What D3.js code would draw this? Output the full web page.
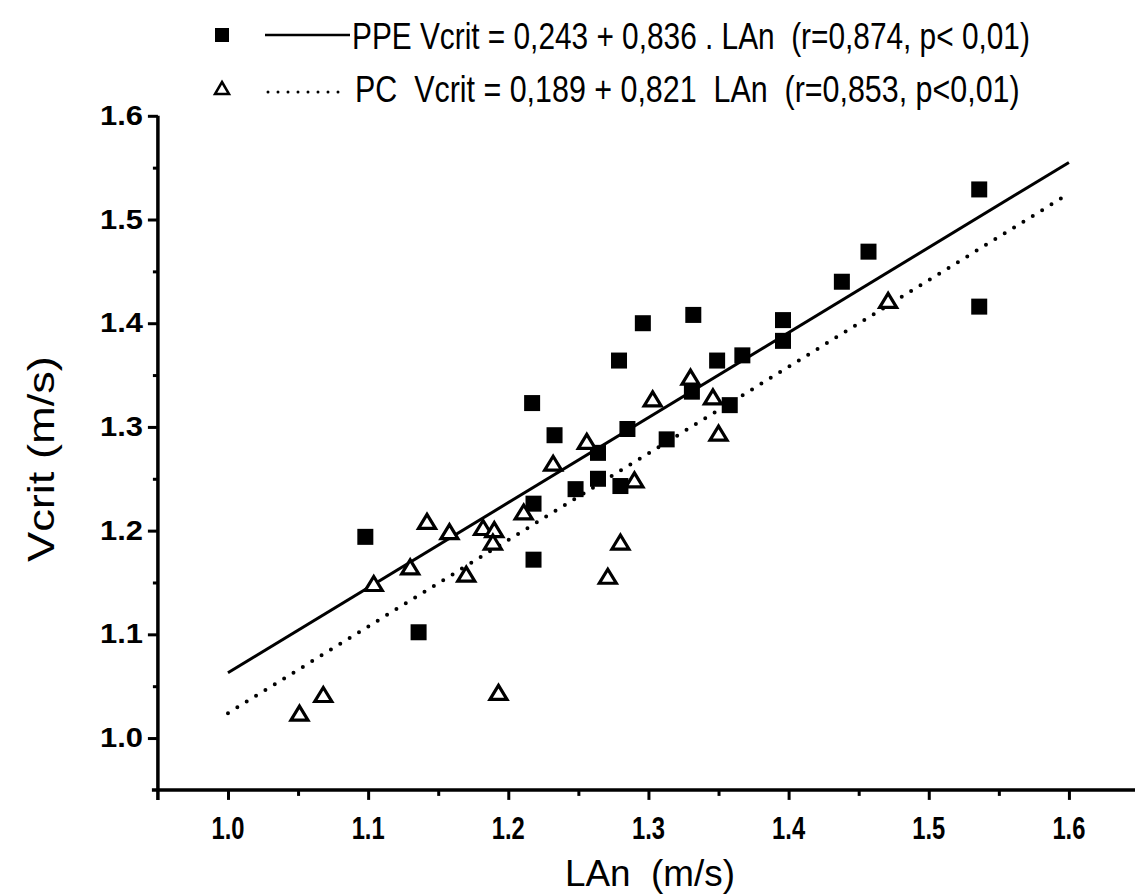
<!DOCTYPE html>
<html><head><meta charset="utf-8">
<script src="https://cdn.jsdelivr.net/npm/d3@7"></script>
<style>body{margin:0;background:#fff}svg{display:block}text{white-space:pre}</style>
</head><body>
<script>
// ---- data ----
const ppeX = [1.098,1.136,1.217,1.218,1.218,1.233,1.248,1.264,1.264,1.280,1.279,1.285,1.296,1.313,1.331,1.332,1.349,1.358,1.367,1.396,1.396,1.438,1.457,1.536,1.536];
const ppeY = [1.194,1.102,1.323,1.226,1.172,1.292,1.240,1.275,1.250,1.243,1.364,1.298,1.400,1.288,1.334,1.408,1.364,1.321,1.369,1.403,1.383,1.440,1.469,1.529,1.416];
const pcX  = [1.051,1.068,1.104,1.130,1.142,1.158,1.170,1.182,1.190,1.189,1.193,1.211,1.232,1.256,1.271,1.280,1.290,1.303,1.330,1.346,1.350,1.471];
const pcY  = [1.024,1.042,1.149,1.165,1.209,1.199,1.158,1.203,1.201,1.189,1.044,1.218,1.265,1.286,1.156,1.189,1.249,1.327,1.348,1.329,1.294,1.422];
const ppeFitX = [1.0, 1.6], ppeFitY = [1.063, 1.555];
const pcFitX  = [1.0, 1.6], pcFitY  = [1.024, 1.525];
const xTicks = [1.0,1.1,1.2,1.3,1.4,1.5,1.6];
const yTicks = [1.0,1.1,1.2,1.3,1.4,1.5,1.6];
const xMinor = [1.05,1.15,1.25,1.35,1.45,1.55];
const yMinor = [1.05,1.15,1.25,1.35,1.45,1.55];
const legendLabels = ["PPE Vcrit = 0,243 + 0,836 . LAn  (r=0,874, p< 0,01)", "PC  Vcrit = 0,189 + 0,821  LAn  (r=0,853, p<0,01)"];
const xTitle = "LAn  (m/s)", yTitle = "Vcrit (m/s)";

const W = 1135, H = 895;
const svg = d3.select("body").append("svg").attr("width", W).attr("height", H);
const x = d3.scaleLinear().domain([0.95, 1.65]).range([157.9, 1139]);
const y = d3.scaleLinear().domain([0.95, 1.6]).range([789.9, 115.8]);
const sans = "'Liberation Sans',Arial,sans-serif";

// helper: text squeezed horizontally to a target width via transform
function fitText(parent, str, tx, ty, size, width, opts = {}) {
  const g = parent.append("g");
  const t = g.append("text").attr("font-family", sans).attr("font-size", size)
    .attr("font-weight", opts.bold ? "bold" : "normal").attr("fill", "#000").text(str);
  const nat = t.node().getComputedTextLength();
  const sx = width / nat;
  const anchor = opts.anchor || "start";
  const ox = anchor === "middle" ? -width / 2 : anchor === "end" ? -width : 0;
  const rot = opts.rotate ? ` rotate(${opts.rotate})` : "";
  g.attr("transform", `translate(${tx},${ty})${rot} translate(${ox},0) scale(${sx},1)`);
  return g;
}

// axes
const xAxis = svg.append("g").attr("transform", `translate(0,${y(0.95)})`)
  .call(d3.axisBottom(x).tickValues(xTicks).tickSize(10).tickFormat(""));
xAxis.select(".domain").attr("stroke-width", 3.5).attr("d", `M${x(0.95)-6},0H${W}`);
xAxis.selectAll(".tick line").attr("stroke-width", 3);
svg.append("g").attr("transform", `translate(0,${y(0.95)})`)
  .call(d3.axisBottom(x).tickValues(xMinor).tickSize(6).tickFormat(""))
  .call(g => { g.select(".domain").remove(); g.selectAll("line").attr("stroke-width", 3); });
const fmt = d3.format(".1f");
xTicks.forEach(v => fitText(svg, fmt(v), x(v), 839, 32, 33, {anchor: "middle", bold: true}));

const yAxis = svg.append("g").attr("transform", `translate(${x(0.95)},0)`)
  .call(d3.axisLeft(y).tickValues(yTicks).tickSize(10).tickFormat(""));
yAxis.select(".domain").attr("stroke-width", 3.5).attr("d", `M0,${y(1.6)}V${y(0.95)+10}`);
yAxis.selectAll(".tick line").attr("stroke-width", 3);
svg.append("g").attr("transform", `translate(${x(0.95)},0)`)
  .call(d3.axisLeft(y).tickValues(yMinor).tickSize(5).tickFormat(""))
  .call(g => { g.select(".domain").remove(); g.selectAll("line").attr("stroke-width", 3); });
yTicks.forEach(v => fitText(svg, fmt(v), 143, y(v) + 9, 27, 43, {anchor: "end", bold: true}));

// titles
fitText(svg, xTitle, 565, 886, 37, 170);
fitText(svg, yTitle, 54, 562, 37, 206, {rotate: -90});

// fit lines
const line = d3.line().x(d => x(d[0])).y(d => y(d[1]));
svg.append("path").datum(d3.zip(ppeFitX, ppeFitY)).attr("d", line)
  .attr("fill", "none").attr("stroke", "#000").attr("stroke-width", 3);
svg.append("path").datum(d3.zip(pcFitX, pcFitY)).attr("d", line)
  .attr("fill", "none").attr("stroke", "#000").attr("stroke-width", 4)
  .attr("stroke-linecap", "round").attr("stroke-dasharray", "0 11");

// markers
const sq = 16;
svg.append("g").selectAll("rect").data(d3.zip(ppeX, ppeY)).join("rect")
  .attr("x", d => x(d[0]) - sq/2).attr("y", d => y(d[1]) - sq/2)
  .attr("width", sq).attr("height", sq).attr("fill", "#000");
const tri = (cx, cy, w, h) => `M${cx},${cy-h/2}L${cx+w/2},${cy+h/2}L${cx-w/2},${cy+h/2}Z`;
svg.append("g").selectAll("path").data(d3.zip(pcX, pcY)).join("path")
  .attr("d", d => tri(x(d[0]), y(d[1]), 17, 14))
  .attr("fill", "#fff").attr("stroke", "#000").attr("stroke-width", 3.2).attr("stroke-linejoin", "miter");

// legend
const lg = svg.append("g");
lg.append("rect").attr("x", 215).attr("y", 28).attr("width", 14).attr("height", 14).attr("fill", "#000");
lg.append("line").attr("x1", 265).attr("x2", 350).attr("y1", 35).attr("y2", 35).attr("stroke", "#000").attr("stroke-width", 2.5);
fitText(lg, legendLabels[0], 352, 49, 37, 678);
lg.append("path").attr("d", tri(222, 88, 14, 12)).attr("fill", "#fff").attr("stroke", "#000").attr("stroke-width", 2.5);
lg.append("line").attr("x1", 268).attr("x2", 345).attr("y1", 92).attr("y2", 92).attr("stroke", "#000")
  .attr("stroke-width", 3).attr("stroke-linecap", "round").attr("stroke-dasharray", "0 10");
fitText(lg, legendLabels[1], 355, 102, 37, 665);
</script>
</body></html>
